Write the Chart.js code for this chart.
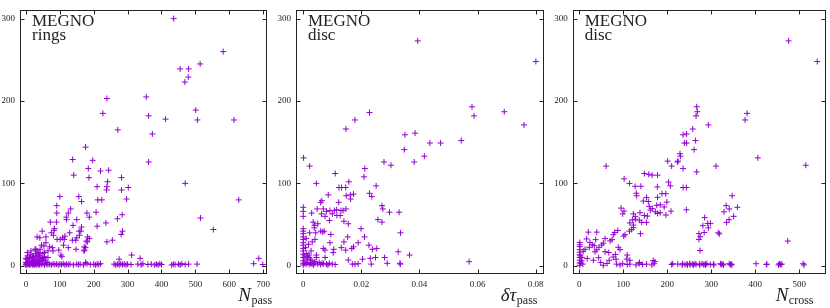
<!DOCTYPE html>
<html lang="en">
<head>
<meta charset="UTF-8">
<title>MEGNO scatter</title>
<style>
  body { margin: 0; background: #fff; }
  #wrap { position: relative; width: 830px; height: 308px; }
  canvas { position: absolute; top: 0; }
</style>
</head>
<body>
<div id="wrap">
  <canvas id="c1" width="275" height="308" style="left:0"></canvas>
  <canvas id="c2" width="275" height="308" style="left:275px"></canvas>
  <canvas id="c3" width="280" height="308" style="left:550px"></canvas>
</div>
<script src="https://cdn.jsdelivr.net/npm/chart.js"></script>
<script>
// --- data: [x, MEGNO] ---
const ringsPass = [
  [436,300],[582,260],[514,245],[455,239],[480,239],[479,229],[469,223],[355,205],[239,203],[227,185],
  [362,182],[501,189],[412,178],[506,177],[614,177],[271,165],[373,160],[176,144],[138,129],[197,128],
  [362,126],[184,118],[220,115],[244,116],[141,110],[186,107],[282,107],[241,102],[470,100],[210,96],
  [239,96],[302,95],[238,92],[282,92],[100,84],[156,84],[164,78],[224,80],[212,80],[297,81],[628,80],
  [91,73],[132,69],[125,64],[180,64],[207,65],[284,62],[91,64],[119,59],[187,59],[270,57],[515,58],
  [150,56],[120,56],[236,52],[72,53],[90,53],[139,49],[210,48],[164,47],[84,45],[48,42],[83,43],
  [553,44],[129,40],[285,42],[75,40],[157,42],[281,38],[33,35],[59,35],[115,36],[182,35],[239,29],
  [255,31],[101,32],[147,31],[181,29],[46,25],[65,18],[97,19],[172,23],[173,19],[148,20],[29,20],
  [312,13],[275,8],[337,9],[687,9],
  [41,34],[81,37],[108,34],[113,32],[92,32],[137,31],[150,34],[158,37],[162,42],[178,30],[187,33],
  [59,28],[53,24],[70,23],[78,22],[80,18],[125,22],[111,25],[33,18],[27,20],[176,22],[171,18],
  [103,13],[106,11],[50,15],[55,11],[35,13],[20,11],[11,9],[45,9],[6,5],[16,5],[30,7],[40,5],[50,6],[176,4],
  [2,8],[5,12],[8,5],[10,10],[14,14],[18,7],[22,12],[25,9],[28,15],[32,11],[36,7],[40,13],[44,10],
  [3,3],[12,3],[20,4],[24,6],[35,4],[48,7],[52,9],[58,6],[62,4],[65,10],[0,1],[0,4],[0,9],[4,16],
  [15,18],[38,16],[42,20],[55,16],
  [0,2],[3,1],[5,3],[8,1.5],[10,2.5],[12,1],[15,2],[18,3],[20,1],[22,2],[25,1.5],[28,2.5],[30,1],
  [33,2],[35,3],[38,1],[40,2],[45,1.5],[50,2.5],[55,1],[60,2],[65,1.5],[70,2],[75,1],[80,2.5],[85,1.5],
  [90,2],[95,1],[100,2],[105,1.5],[110,2.5],[115,1],[120,2],[125,1.5],[130,2],[140,1],[150,2],[155,1.5],
  [160,2],[170,1],[180,2.5],[190,1.5],[200,2],[205,1],[210,2],[215,1.5],[220,2.5],[260,2],[265,1],
  [270,2],[275,1],[280,2.5],[285,1.5],[290,2],[295,1],[300,2],[310,1.5],[330,2],[340,1],[345,2.5],
  [360,1.5],[370,2],[380,1],[385,2],[390,1],[395,2.5],[400,1.5],[430,1],[435,2],[440,1.5],[450,2],
  [455,1],[460,2.5],[470,1.5],[480,2],[505,2],[672,2.5],[699,1.5]
];

const discDtau = [
  [0.0394,273],[0.0801,248],[0.0581,193],[0.0588,182],[0.0692,187],[0.076,171],[0.0228,186],[0.0178,177],
  [0.0147,166],[0.035,159],[0.0385,161],[0.0436,149],[0.0473,149],[0.0544,152],[0.0348,141],[0.0417,133],
  [0.0001,131],[0.0278,126],[0.0382,126],[0.0022,121],[0.0302,122],[0.011,112],[0.0212,118],[0.0209,108],
  [0.0251,97],[0.0123,95],[0.0132,95],[0.0146,95],[0.0157,102],[0.0045,100],[0.0086,86],[0.0148,85],
  [0.0162,86],[0.0173,87],[0.0163,81],[0.0228,88],[0.0236,84],[0.0122,77],[0.0064,79],[0.006,77],
  [0.0271,73],[0.0274,69],[0,71],[0,66],[0,60],[0.0029,64],[0.0048,69],[0.0069,69],[0.008,66],
  [0.0092,67],[0.0107,67],[0.0115,68],[0.013,67],[0.0137,67],[0.0147,69],[0.0063,63],[0.0075,60],
  [0.009,55],[0.01,63],[0.0116,61],[0.0127,61],[0.014,54],[0.0155,51],[0.0257,56],[0.0271,53],
  [0.0297,65],[0.0034,53],[0.0039,49],[0.0038,46],[0.005,51],[0.0199,45],
  [0,45],[0,42],[0,39],[0,35],[0,32],[0,28],[0,25],[0,21],[0,18],[0,14],[0,10],[0,6],[0,3],
  [0.0022,40],[0.0043,40],[0.006,42],[0.0067,41],[0.0072,42],[0.0095,38],[0.001,33],[0.0031,29],
  [0.004,32],[0.0092,28],[0.014,29],[0.0153,35],[0.0189,28],[0.0211,35],[0.0226,25],[0.0238,20],
  [0.0253,21],[0.0167,21],[0.0173,23],[0.0146,19],[0.0131,22],[0.0105,20],[0.0069,21],[0.0075,19],
  [0.0103,16],[0.0027,18],[0.002,13],[0.0015,11],[0.0045,13],[0.0046,10],[0.0075,10],[0.0155,7],
  [0.0204,8],[0.0231,9],[0.0249,10],[0.028,10],[0.0327,17],[0.0366,13],[0.0289,3],[0.0333,3],
  [0.0334,2],[0.0234,2],[0.0169,2],[0.0178,2],[0.0189,2.5],[0.0571,5],[0.033,65],[0.0335,40],
  [0,1],[0.0005,3],[0.001,2],[0.0015,4],[0.002,1.5],[0.0025,3],[0.003,2],[0.0035,1],[0.004,3],
  [0.005,2],[0.006,1.5],[0.007,2.5],[0.008,2],[0.009,3],[0.01,2],[0.011,1.5],[0.003,6],[0.001,8],
  [0.002,10],[0.0005,12],[0.0012,15],[0.0008,22],[0.0018,26],[0.0025,7],[0.004,5],[0.0055,4],
  [0.0065,3],[0.0085,1]
];

const discCross = [
  [476,273],[541,248],[267,193],[268.5,187],[265.5,182],[293.5,171],[258,166],[381.6,185],[377,177],
  [236,159],[244,160],[239,149],[244,149],[264,152],[261,141],[229,136],[230,133],[406,131],[201,127],
  [223,126],[236,118],[267,114],[311,121],[515,122],[236,95],[243.5,95],[243.5,68],[347.5,85],[334,73],
  [329,65.5],[341,69],[359.5,71],[351,60],[335,52.6],[340.6,56],[285,58.5],[281,48.7],[292,51.4],
  [298,51.4],[293.5,46],[284,40.4],[272,39],[275,35.3],[272,32],[316,40],[318.5,38.8],[274.6,18.5],
  [474,30],[61,121],[102,105.5],[114,100],[127,96.5],[140,96.5],[148,112],[158,111],[165.5,110],
  [178,110],[210,121],[224.6,127],
  [130.6,85],[129.7,88],[153,83],[157,78],[145.6,78.5],[178,83],[188,87.5],[196.6,87.5],[203,101.6],
  [207,97],[177.5,95.7],[159,72],[166,69.4],[161.5,67.5],[176,73.4],[184,74],[199,77.3],[193,71.4],
  [138,64.4],[148,61],[154.7,60.3],[173,65.5],[178,63.5],[184,64.4],[208.6,66.3],[197,61.6],[123,63],
  [127.4,59.6],[95,70],[101.7,66.3],[98.7,63],[136.5,55.3],[142,52.6],[120.6,55.7],[127.4,56.5],
  [115,52],[153,52.6],[123,49.4],[114,42],[119,44],[123,46.3],[87.4,42.8],[77.4,37.7],[80.5,40.4],
  [104,37.7],[101,36],[139,39],[58.5,33],[74.4,31.7],[70,30.2],[37.3,31.7],[39.6,40.8],[20.5,40.8],
  [16.8,32.6],
  [1,28.2],[1,25.5],[1,23.2],[1,19.6],[1,16.5],[1,13.4],[1,9.9],[1,6.7],[1,3.5],[1,0.5],
  [24.3,28.2],[9,17.6],[13,20],[22.8,22.4],[29.6,25.5],[34,24.3],[35.7,17],[39.6,19.3],[44.8,22.4],
  [51,25.2],[54.6,27.5],[18,8.7],[32,6.7],[44,9.9],[48.7,4],[54.6,0.5],[63,2.8],[68,6.7],[77,10.6],
  [82,13.8],[83.5,7.9],[88.7,22.4],[92.6,19.6],[58.5,17],[67,16],[109,13],[108,8.2],[115,6.7],
  [168,6.3],[172,5],[137,4],[3,3],[5,6],[8,2],[2,12],[6,10],
  [85,2],[92.6,1],[98.7,2.5],[109,1.5],[115,2],[129,1],[136,2.5],[144,1.5],[153,2],[165,1],[170,2.5],
  [210,1.5],[212.5,2.5],[224,2],[234,1],[235,2.5],[240.5,1.5],[245,2],[246,1],[251,2.5],[252,1.5],
  [257,2],[259.5,1],[263,2.5],[265.5,1.5],[273,2],[274,1],[279,2.5],[283,1.5],[286,2],[287,1],
  [290,2.5],[298,1.5],[305,2],[306,1],[321,2.5],[323,1.5],[326.5,2],[328,1],[341,2.5],[343.5,1.5],
  [345.5,2],[347,1],[402,2.5],[425.5,1.5],[426.5,2],[453,1],[455,2.5],[458,1.5],[460.5,2],[509,2.5],[511,1]
];

const megnoTicks = [0, 100, 200, 300];
const passTicks = [0, 100, 200, 300, 400, 500, 600, 700];
const dtauTicks = [0, 0.02, 0.04, 0.06, 0.08];
const crossTicks = [0, 100, 200, 300, 400, 500];

const purple = '#9400d3';
const ink = '#222';
const serif = '"Liberation Serif", "DejaVu Serif", serif';

// frame, inward ticks and the texts drawn on top
const framePlugin = {
  id: 'panelFrame',
  afterDatasetsDraw(chart, args, opts) {
    const { ctx, chartArea: a, scales } = chart;
    const L = Math.round(a.left) + 0.5, R = Math.round(a.right) - 0.5;
    const T = Math.round(a.top) + 0.5, B = Math.round(a.bottom) - 0.5;
    ctx.save();
    ctx.strokeStyle = ink;
    ctx.lineWidth = 1;
    ctx.beginPath();
    scales.x.ticks.forEach(t => {
      const p = Math.round(scales.x.getPixelForValue(t.value)) + 0.5;
      ctx.moveTo(p, B); ctx.lineTo(p, B - 4);
      ctx.moveTo(p, T); ctx.lineTo(p, T + 4);
    });
    scales.y.ticks.forEach(t => {
      const p = Math.round(scales.y.getPixelForValue(t.value)) + 0.5;
      ctx.moveTo(L, p); ctx.lineTo(L + 4, p);
      ctx.moveTo(R, p); ctx.lineTo(R - 4, p);
    });
    ctx.stroke();
    ctx.strokeRect(L, T, R - L, B - T);

    ctx.fillStyle = ink;
    ctx.textBaseline = 'alphabetic';
    ctx.textAlign = 'left';
    ctx.font = '17px ' + serif;
    ctx.fillText('MEGNO', a.left + 12, 26);
    ctx.fillText(opts.tag, a.left + 12, 40);

    ctx.font = 'italic 19px ' + serif;
    const w1 = ctx.measureText(opts.sym).width;
    ctx.font = '12px ' + serif;
    const w2 = ctx.measureText(opts.sub).width;
    const x0 = opts.titleRight - w1 - w2;
    ctx.font = 'italic 19px ' + serif;
    ctx.fillText(opts.sym, x0, 300.5);
    ctx.font = '12px ' + serif;
    ctx.fillText(opts.sub, x0 + w1 + 0.5, 303.5);
    ctx.restore();
  }
};

function makePanel(id, points, xMin, xMax, xTicks, fmt, leftW, rightPad, tag, sym, sub, titleRight) {
  const tickFont = { family: serif, size: 9 };
  return new Chart(document.getElementById(id), {
    type: 'scatter',
    data: {
      datasets: [{
        data: points.map(p => ({ x: p[0], y: p[1] })),
        pointStyle: 'cross',
        pointRadius: 3,
        pointBorderWidth: 1,
        borderColor: purple,
        backgroundColor: purple
      }]
    },
    options: {
      responsive: false,
      animation: false,
      events: [],
      layout: { autoPadding: false, padding: { top: 3, right: rightPad, left: 0, bottom: 0 } },
      plugins: {
        legend: { display: false },
        tooltip: { enabled: false },
        panelFrame: { tag: tag, sym: sym, sub: sub, titleRight: titleRight }
      },
      scales: {
        x: {
          type: 'linear',
          min: xMin,
          max: xMax,
          afterBuildTicks: s => { s.ticks = xTicks.map(v => ({ value: v })); },
          afterFit: s => { s.height = 34; },
          grid: { display: false, drawTicks: false },
          border: { display: false },
          ticks: { padding: 5, color: ink, font: tickFont, maxRotation: 0, autoSkip: false, callback: fmt }
        },
        y: {
          type: 'linear',
          min: -10,
          max: 310,
          afterBuildTicks: s => { s.ticks = megnoTicks.map(v => ({ value: v })); },
          afterFit: s => { s.width = leftW; },
          grid: { display: false, drawTicks: false },
          border: { display: false },
          ticks: { padding: 5, color: ink, font: tickFont, callback: v => String(v) }
        }
      }
    },
    plugins: [framePlugin]
  });
}

const plain = v => String(v);
const twoDec = v => (v === 0 ? '0' : v.toFixed(2));

makePanel('c1', ringsPass, -17.5, 711, passTicks, plain, 20, 5.7, 'rings', 'N', 'pass', 271.7);
makePanel('c2', discDtau, -0.0025, 0.083, dtauTicks, twoDec, 21, 5.7, 'disc', '\u03b4\u03c4', 'pass', 262);
makePanel('c3', discCross, -15, 561, crossTicks, plain, 22.7, 4, 'disc', 'N', 'cross', 263);
</script>
</body>
</html>
